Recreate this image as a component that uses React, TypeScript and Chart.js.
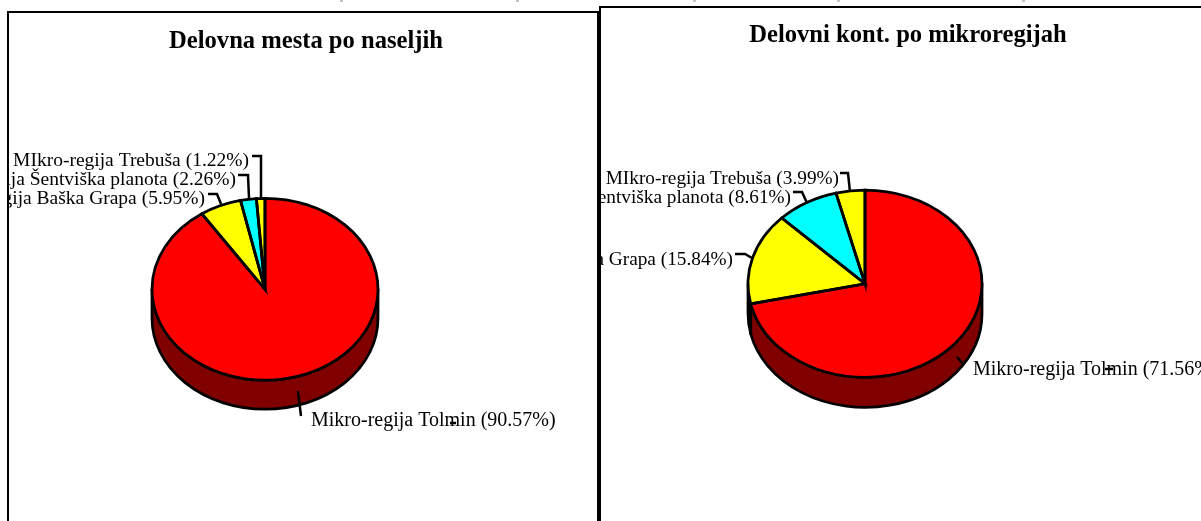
import React, { useEffect, useRef } from "react";
import { Chart, registerables } from "chart.js";

Chart.register(...registerables);

const categoriesLeft = [
  "Mikro-regija Tolmin",
  "Mikro-regija Baška Grapa",
  "Mikro-regija Šentviška planota",
  "MIkro-regija Trebuša",
];
const valuesLeft = [90.57, 5.95, 2.26, 1.22];
const categoriesRight = [
  "Mikro-regija Tolmin",
  "Mikro-regija Baška Grapa",
  "Mikro-regija Šentviška planota",
  "MIkro-regija Trebuša",
];
const valuesRight = [71.56, 15.84, 8.61, 3.99];
const sliceColors = ["#ff0000", "#ffff00", "#00ffff", "#ffff00"];
const sideColors = ["#800000", "#808000", "#008080", "#808000"];
const titleLeft = "Delovna mesta po naseljih";
const titleRight = "Delovni kont. po mikroregijah";
const cutOffMarks = [341, 517, 694, 838, 1023];

type Pt = [number, number];
type Lab = { x: number; y: number; align: "left" | "right"; size: number; leader: Pt[] };
type Cfg = {
  left: number; top: number; w: number; h: number; frameW: number;
  title: string; titleTop: number; cats: string[]; vals: number[];
  pad: { left: number; right: number; top: number; bottom: number };
  squash: number; depth: number; labels: Lab[]; dash: Pt[];
};

const leftCfg: Cfg = {
  left: 7, top: 11, w: 598, h: 520, frameW: 590,
  title: titleLeft, titleTop: 16, cats: categoriesLeft, vals: valuesLeft,
  pad: { left: 145, right: 227, top: 0, bottom: 15 },
  squash: 0.805, depth: 29,
  labels: [
    { x: 304, y: 415, align: "left", size: 20, leader: [[291, 380], [294, 405]] },
    { x: 198, y: 193, align: "right", size: 19.5, leader: [[201, 183], [210, 183], [214, 193]] },
    { x: 229, y: 174, align: "right", size: 19.5, leader: [[231, 164], [241, 164], [242, 187]] },
    { x: 242, y: 155, align: "right", size: 19.5, leader: [[245, 145], [254, 145], [254, 187]] },
  ],
  dash: [[443, 412], [449, 412]],
};

const rightCfg: Cfg = {
  left: 599, top: 6, w: 618, h: 520, frameW: 640,
  title: titleRight, titleTop: 15, cats: categoriesRight, vals: valuesRight,
  pad: { left: 149, right: 235, top: 0, bottom: 15 },
  squash: 0.8, depth: 30,
  labels: [
    { x: 374, y: 369, align: "left", size: 20, leader: [[358, 351], [365, 359]] },
    { x: 134, y: 259, align: "right", size: 19.3, leader: [[136, 248], [146, 248], [153, 252]] },
    { x: 192, y: 197, align: "right", size: 19.3, leader: [[194, 186], [203, 186], [208, 197]] },
    { x: 240, y: 178, align: "right", size: 19.3, leader: [[241, 167], [249, 167], [251, 186]] },
  ],
  dash: [[506, 363], [514, 363]],
};

function makePlugin(cfg: Cfg) {
  return {
    id: "tiltedPie",
    afterLayout(chart: any) {
      // centre the title on the whole frame rather than on the pie's padded area
      chart.titleBlock.left = 0;
      chart.titleBlock.right = chart.width;
    },
    beforeDraw(chart: any) {
      const ctx = chart.ctx;
      ctx.save();
      ctx.fillStyle = "#ffffff";
      ctx.fillRect(0, 0, chart.width, chart.height);
      ctx.strokeStyle = "#000000";
      ctx.lineWidth = 2;
      ctx.strokeRect(1, 1, cfg.frameW, chart.height + 20);
      ctx.restore();
    },
    beforeDatasetDraw(chart: any) {
      const ctx = chart.ctx;
      const arcs = chart.getDatasetMeta(0).data;
      ctx.save();
      ctx.lineWidth = 2.75;
      ctx.strokeStyle = "#000000";
      ctx.lineJoin = "round";
      arcs.forEach((a: any, i: number) => {
        const ry = a.outerRadius * cfg.squash;
        // canvas angles in [0, PI] are the near half of the ellipse; Chart.js
        // starts at -PI/2 and runs to 3PI/2, so one crossing is all there is
        const s = Math.max(a.startAngle, 0);
        const e = Math.min(a.endAngle, Math.PI);
        if (e > s) {
          ctx.beginPath();
          ctx.ellipse(a.x, a.y, a.outerRadius, ry, 0, s, e);
          ctx.ellipse(a.x, a.y + cfg.depth, a.outerRadius, ry, 0, e, s, true);
          ctx.closePath();
          ctx.fillStyle = sideColors[i];
          ctx.fill();
          ctx.stroke();
        }
      });
      const first = arcs[0];
      ctx.translate(first.x, first.y);
      ctx.scale(1, cfg.squash);
      ctx.translate(-first.x, -first.y);
    },
    afterDatasetDraw(chart: any) {
      const ctx = chart.ctx;
      ctx.restore();
      const arcs = chart.getDatasetMeta(0).data;
      ctx.save();
      ctx.lineWidth = 2.75;
      ctx.strokeStyle = "#000000";
      ctx.lineJoin = "miter";
      arcs.forEach((a: any) => {
        ctx.beginPath();
        ctx.moveTo(a.x, a.y);
        ctx.ellipse(a.x, a.y, a.outerRadius, a.outerRadius * cfg.squash, 0, a.startAngle, a.endAngle);
        ctx.closePath();
        ctx.stroke();
      });
      ctx.restore();
    },
    afterDraw(chart: any) {
      const ctx = chart.ctx;
      ctx.save();
      ctx.beginPath();
      ctx.rect(2, 2, chart.width, chart.height);
      ctx.clip();
      ctx.strokeStyle = "#000000";
      ctx.lineWidth = 2.5;
      cfg.labels.forEach((l) => {
        ctx.beginPath();
        l.leader.forEach(([x, y], k) => (k ? ctx.lineTo(x, y) : ctx.moveTo(x, y)));
        ctx.stroke();
      });
      ctx.fillStyle = "#000000";
      ctx.textBaseline = "alphabetic";
      cfg.labels.forEach((l, i) => {
        ctx.font = `${l.size}px "Liberation Serif"`;
        ctx.textAlign = l.align;
        ctx.fillText(`${cfg.cats[i]} (${cfg.vals[i].toFixed(2)}%)`, l.x, l.y);
      });
      ctx.beginPath();
      ctx.moveTo(cfg.dash[0][0], cfg.dash[0][1]);
      ctx.lineTo(cfg.dash[1][0], cfg.dash[1][1]);
      ctx.stroke();
      ctx.restore();
    },
  };
}

function PieCanvas({ cfg }: { cfg: Cfg }) {
  const ref = useRef<HTMLCanvasElement>(null);
  useEffect(() => {
    const chart = new Chart(ref.current!, {
      type: "pie",
      data: {
        labels: cfg.cats,
        datasets: [{ data: cfg.vals, backgroundColor: sliceColors, borderWidth: 0 }],
      },
      options: {
        responsive: false,
        animation: false,
        layout: { padding: cfg.pad },
        events: [],
        plugins: {
          legend: { display: false },
          tooltip: { enabled: false },
          title: {
            display: true,
            text: cfg.title,
            color: "#000000",
            font: { family: '"Liberation Serif"', size: 24.6, weight: "bold" },
            padding: { top: cfg.titleTop, bottom: 6 },
          },
        },
      },
      plugins: [makePlugin(cfg)],
    } as any);
    return () => chart.destroy();
  }, [cfg]);
  return (
    <canvas
      ref={ref}
      width={cfg.w}
      height={cfg.h}
      style={{ position: "absolute", left: cfg.left, top: cfg.top, display: "block" }}
    />
  );
}

export default function App() {
  return (
    <div style={{ position: "fixed", left: 0, top: 0, width: 1201, height: 521, overflow: "hidden", background: "#fff" }}>
      {cutOffMarks.map((x) => (
        <div key={x} style={{ position: "absolute", left: x - 1, top: 0, width: 3, height: 2, background: "#c4c4c4" }} />
      ))}
      <PieCanvas cfg={leftCfg} />
      <PieCanvas cfg={rightCfg} />
    </div>
  );
}
